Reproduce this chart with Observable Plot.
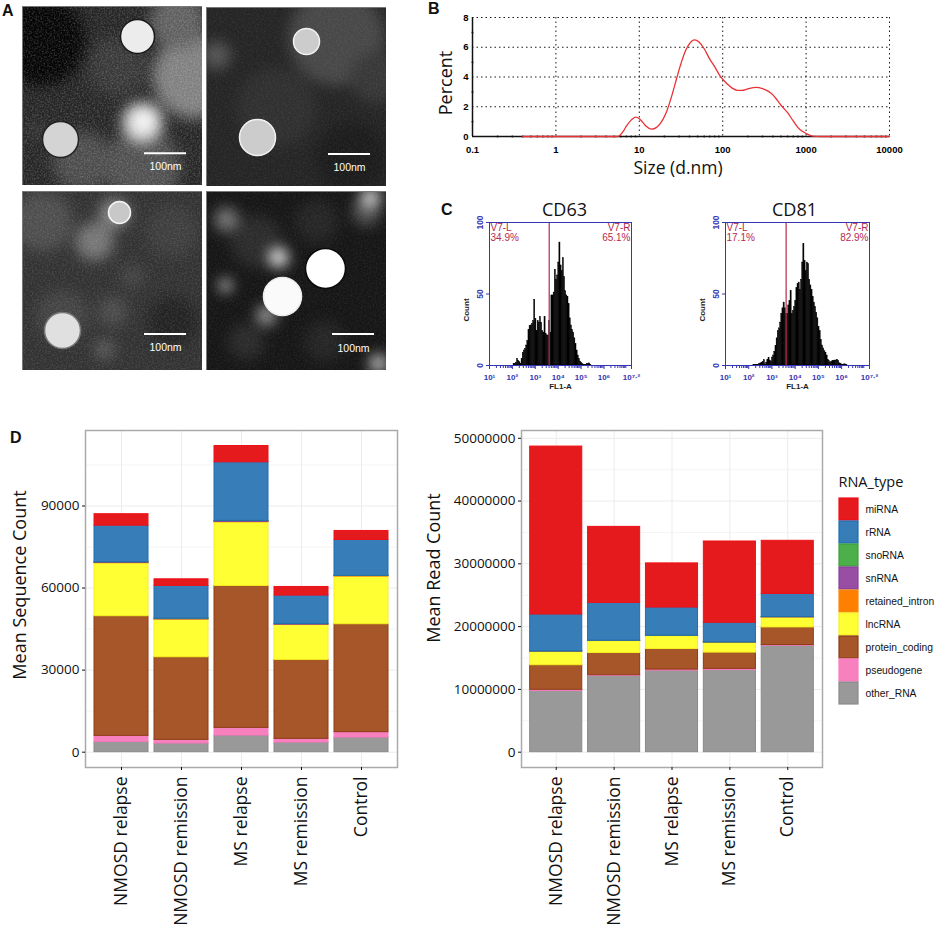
<!DOCTYPE html>
<html>
<head>
<meta charset="utf-8">
<script src="https://cdn.jsdelivr.net/npm/d3@7"></script>
<script src="https://cdn.jsdelivr.net/npm/@observablehq/plot@0.6"></script>
<style>
  html, body { margin: 0; background: white; }
  #page { position: relative; width: 936px; height: 926px; overflow: hidden; }
  #page > svg.plot-box, #page > div.tag { position: absolute; }
  .tag { font: bold 16px "Liberation Sans", sans-serif; color: #111; }
</style>
</head>
<body>
<svg width="0" height="0" style="position:absolute">
  <filter id="grain" x="0" y="0" width="100%" height="100%">
    <feTurbulence type="fractalNoise" baseFrequency="0.6" numOctaves="2" seed="4"/>
    <feColorMatrix type="matrix" values="0 0 0 0 1  0 0 0 0 1  0 0 0 0 1  1.3 0 0 0 -0.52"/>
  </filter>
</svg>
<div id="page"></div>
<script>
// panel D
const groups = ["NMOSD relapse", "NMOSD remission", "MS relapse", "MS remission", "Control"]
const rnaTypes = ["miRNA", "rRNA", "snoRNA", "snRNA", "retained_intron", "lncRNA", "protein_coding", "pseudogene", "other_RNA"]
const rnaFill = ["#e41a1c", "#377eb8", "#4daf4a", "#984ea3", "#ff7f00", "#ffff33", "#a65628", "#f781bf", "#999999"]
const rnaEdge = ["#f01018", "#1f6db4", "#3f9e3c", "#8a3ea0", "#f58a10", "#f5f020", "#8c3c14", "#ff78c0", "#8a8a8a"]

const seqOther = [3780, 3170, 6090, 3530, 5360]
const seqPseudo = [2190, 1340, 2800, 1340, 1950]
const seqProtein = [43730, 30190, 51890, 28870, 39460]
const seqLnc = [19360, 13780, 23260, 12790, 17420]
const seqRetained = [120, 100, 150, 90, 200]
const seqSn = [250, 200, 300, 220, 60]
const seqSno = [60, 50, 80, 50, 40]
const seqR = [13310, 11950, 21400, 10360, 13100]
const seqMi = [4200, 2420, 5960, 3150, 3280]

const readOther = [9780000, 12160000, 13000000, 13110000, 16970000]
const readPseudo = [160000, 100000, 160000, 160000, 100000]
const readProtein = [3910000, 3540000, 3280000, 2590000, 2800000]
const readLnc = [2150000, 1900000, 2060000, 1580000, 1590000]
const readRetained = [30000, 30000, 30000, 30000, 30000]
const readSn = [20000, 20000, 20000, 20000, 20000]
const readSno = [15000, 15000, 15000, 15000, 15000]
const readR = [5865000, 6015000, 4475000, 3105000, 3675000]
const readMi = [26750000, 12110000, 7030000, 12950000, 8470000]

// panel B
const sizeNm = [0.4, 5.5, 6.5, 7, 8, 9, 10, 11, 12, 14, 16, 18, 21, 25, 28, 32, 36, 40, 46, 52, 60, 70, 80, 90, 100, 115, 130, 150, 170, 200, 250, 300, 350, 400, 450, 500, 600, 700, 800, 900, 1000, 1200, 1500, 10000]
const percent = [0, 0, 0.4, 0.7, 1.1, 1.3, 1.2, 0.95, 0.7, 0.5, 0.6, 0.9, 1.6, 2.9, 3.9, 5, 5.8, 6.25, 6.5, 6.35, 5.9, 5.2, 4.7, 4.2, 3.85, 3.5, 3.25, 3.1, 3.1, 3.2, 3.3, 3.22, 3.05, 2.8, 2.45, 2.1, 1.6, 1.05, 0.6, 0.35, 0.2, 0.03, 0, 0]
const sizeTicks = [0.1, 1, 10, 100, 1000, 10000]
const sizeMinor = [0.2, 0.3, 0.4, 0.5, 0.6, 0.7, 0.8, 0.9, 2, 3, 4, 5, 6, 7, 8, 9, 20, 30, 40, 50, 60, 70, 80, 90, 200, 300, 400, 500, 600, 700, 800, 900, 2000, 3000, 4000, 5000, 6000, 7000, 8000, 9000]

// panel C, bin starts are log10 of FL1-A
const cd63Bins = [2.05, 2.1, 2.15, 2.2, 2.25, 2.3, 2.35, 2.4, 2.45, 2.5, 2.55, 2.6, 2.65, 2.7, 2.75, 2.8, 2.85, 2.9, 2.95, 3, 3.05, 3.1, 3.15, 3.2, 3.25, 3.3, 3.35, 3.4, 3.45, 3.5, 3.55, 3.6, 3.65, 3.7, 3.75, 3.8, 3.85, 3.9, 3.95, 4, 4.05, 4.1, 4.15, 4.2, 4.25, 4.3, 4.35, 4.4, 4.45, 4.5, 4.55, 4.6, 4.65, 4.7, 4.75, 4.8, 4.85, 4.9, 4.95, 5, 5.05, 5.1, 5.15, 5.2, 5.25, 5.3, 5.35, 5.4]
const cd63Count = [1, 1, 2, 4.6, 3.3, 2.3, 1, 4.6, 8.8, 10.5, 11.6, 14, 17, 25, 27.5, 28, 29, 31, 46, 32.5, 24, 31, 30, 34, 30, 24, 23, 34, 22, 21, 21, 31, 23, 49, 49, 51, 67, 60, 63, 72, 86, 70, 66, 75, 62, 52, 49, 48, 43, 33, 28, 25, 23, 19, 15, 10.5, 7, 4.6, 2.8, 2, 1, 0.5, 0.5, 0.5, 1, 1, 1.5, 0.5]
const cd81Bins = [2.2, 2.25, 2.3, 2.35, 2.4, 2.45, 2.5, 2.55, 2.6, 2.65, 2.7, 2.75, 2.8, 2.85, 2.9, 2.95, 3, 3.05, 3.1, 3.15, 3.2, 3.25, 3.3, 3.35, 3.4, 3.45, 3.5, 3.55, 3.6, 3.65, 3.7, 3.75, 3.8, 3.85, 3.9, 3.95, 4, 4.05, 4.1, 4.15, 4.2, 4.25, 4.3, 4.35, 4.4, 4.45, 4.5, 4.55, 4.6, 4.65, 4.7, 4.75, 4.8, 4.85, 4.9, 4.95, 5, 5.05, 5.1, 5.15, 5.2, 5.25, 5.3, 5.35, 5.4, 5.45, 5.5, 5.55, 5.6, 5.65, 5.7, 5.75, 5.8, 5.85, 5.9, 5.95, 6, 6.05, 6.1, 6.15, 6.2]
const cd81Count = [0.5, 0.5, 0.5, 0.3, 0.5, 1, 1.5, 2, 2.5, 3.7, 0.8, 2, 4, 5.5, 3.5, 2.8, 5.6, 7, 9.5, 13.5, 19, 24, 26, 30, 36, 40, 44, 40, 36, 36, 42, 45, 52, 36, 38, 41, 45, 54, 57, 58, 53, 60, 72, 85, 73, 66, 72, 71, 60, 56, 53, 48, 44, 41, 37, 33, 27, 24, 18, 14, 12, 10, 9, 7, 4, 3, 2, 2.5, 3, 3, 3.5, 3.5, 4, 3, 1.5, 1, 0.5, 0.3, 0.8, 0.8, 0.5]

// panel A, plates are 180 px across: x, y, r, grey
const plate1Glow = [[18, 35, 45, "#040404"], [172, 70, 42, "#808080"], [120, 160, 38, "#505050"], [155, 15, 28, "#606060"], [60, 155, 30, "#4c4c4c"], [120, 116, 20, "#dcdcdc"], [122, 114, 8, "#ffffff"], [14, 124, 4, "#666666"], [95, 60, 30, "#383838"]]
const plate1Spot = [[115, 30, 17, "#ececec", "#1a1a1a"], [38, 133, 18, "#d4d4d4", "#222222"]]
const plate2Glow = [[130, 30, 48, "#484848"], [170, 70, 26, "#383838"], [10, 48, 14, "#555555"], [70, 100, 40, "#303030"], [145, 150, 35, "#1c1c1c"]]
const plate2Spot = [[100, 34, 13, "#cccccc", "#f2f2f2"], [51, 130, 18, "#cccccc", "#f2f2f2"]]
const plate3Glow = [[72, 50, 19, "#777777"], [92, 22, 15, "#858585"], [20, 30, 30, "#4e4e4e"], [110, 85, 12, "#454545"], [90, 120, 15, "#4c4c4c"], [82, 158, 10, "#5c5c5c"], [150, 40, 26, "#3e3e3e"], [40, 125, 26, "#444444"], [150, 130, 25, "#222222"]]
const plate3Spot = [[97, 21, 11, "#c8c8c8", "#f4f4f4"], [40, 139, 18, "#e0e0e0", "#777777"]]
const plate4Glow = [[72, 66, 10, "#e4e4e4"], [20, 28, 12, "#777777"], [19, 94, 6, "#e0e0e0"], [60, 124, 10, "#9a9a9a"], [164, 6, 10, "#d0d0d0"], [172, 172, 9, "#cccccc"], [160, 20, 14, "#555555"], [50, 50, 26, "#2c2c2c"], [110, 30, 22, "#262626"], [118, 150, 20, "#262626"], [40, 150, 18, "#2c2c2c"]]
const plate4Spot = [[119, 77, 20, "#ffffff", "#0a0a0a"], [76, 105, 19, "#fafafa", "#eeeeee"]]

const mono = "Liberation Sans, sans-serif"
const humanist = "Open Sans, sans-serif"
const page = document.getElementById("page")

function mount(svg, left, top) {
  svg.classList.add("plot-box")
  svg.style.left = left + "px"
  svg.style.top = top + "px"
  svg.style.background = "transparent"
  page.append(svg)
}

function tag(text, left, top) {
  const el = document.createElement("div")
  el.className = "tag"
  el.textContent = text
  el.style.left = left + "px"
  el.style.top = top + "px"
  page.append(el)
}

function plate(base, glow, spots, barY, labelY, barX, grain, left, top) {
  const spot = spots.map(s => ({x: s[0], y: s[1], r: s[2], fill: s[3], edge: s[4]}))
  const soft = glow.map(s => ({x: s[0], y: s[1], r: s[2], fill: s[3]}))
  mount(Plot.plot({
    width: 180, height: 179,
    margin: 0,
    x: {domain: [0, 180], axis: null},
    y: {domain: [0, 179], axis: null, reverse: true},
    r: {type: "identity"},
    marks: [
      Plot.frame({fill: base}),
      Plot.dot(soft, {x: "x", y: "y", r: "r", fill: "fill", imageFilter: "blur(7px)"}),
      Plot.frame({fill: "white", opacity: grain, imageFilter: "url(#grain)"}),
      Plot.dot(spot, {x: "x", y: "y", r: "r", fill: "fill", stroke: "edge", strokeWidth: 1.5}),
      Plot.ruleY([barY], {x1: barX, x2: barX + 42, stroke: "white", strokeWidth: 2}),
      Plot.text(["100nm"], {x: barX + 21, y: labelY, fill: "white", fontSize: 10.5, fontFamily: mono}),
      Plot.frame({stroke: "#777", strokeWidth: 1})
    ]
  }), left, top)
}

plate("#262626", plate1Glow, plate1Spot, 146.7, 159.7, 122, 0.35, 22, 6)
plate("#252525", plate2Glow, plate2Spot, 146.5, 160, 122, 0.12, 206, 7)
plate("#323232", plate3Glow, plate3Spot, 142.5, 156, 122, 0.22, 22, 191)
plate("#161616", plate4Glow, plate4Spot, 142.5, 157, 126, 0.12, 206, 191)

// size distribution
const sizeRows = sizeNm.map((s, i) => ({s, p: percent[i]}))
mount(Plot.plot({
  width: 474, height: 190,
  marginLeft: 42, marginRight: 15, marginTop: 17, marginBottom: 54,
  style: {background: "transparent", fontFamily: mono},
  x: {type: "log", domain: [0.1, 10000], label: null},
  y: {domain: [0, 8], label: null},
  marks: [
    Plot.gridX(sizeTicks, {stroke: "black", strokeOpacity: 0.9, strokeDasharray: "1.5,3"}),
    Plot.gridY([2, 4, 6, 8], {stroke: "black", strokeOpacity: 0.9, strokeDasharray: "1.5,3"}),
    Plot.ruleX([0.1], {stroke: "#111", strokeWidth: 1.5}),
    Plot.ruleY([0], {stroke: "#111", strokeWidth: 1.5}),
    Plot.dot(sizeMinor, {x: d => d, y: 0, r: 1, fill: "#111"}),
    Plot.dot([1, 3, 5, 7], {x: 0.1, y: d => d, r: 1, fill: "#111"}),
    Plot.axisX({ticks: sizeTicks, tickSize: 0, tickPadding: 10, fontSize: 9.5, fontWeight: "bold", tickFormat: d => String(d), label: null}),
    Plot.axisY({ticks: [0, 2, 4, 6, 8], tickSize: 0, tickPadding: 4, fontSize: 9.5, fontWeight: "bold", label: null}),
    Plot.line(sizeRows, {x: "s", y: "p", stroke: "#ea3136", strokeWidth: 1.3, curve: "monotone-x"}),
    Plot.text(["Size (d.nm)"], {frameAnchor: "bottom", dx: -3, dy: 37, fontSize: 17.5, fontFamily: humanist, fill: "#111"}),
    Plot.text(["Percent"], {frameAnchor: "left", dx: -26, dy: 6, rotate: -90, fontSize: 18, textAnchor: "middle", fontFamily: humanist, fill: "#111"})
  ]
}), 430, 0)

// flow histograms
const flowBlue = "#3636b4"
const gateRed = "#b5294e"
const flowTicks = [1, 2, 3, 4, 5, 6]
const flowMinor = [1, 2, 3, 4, 5, 6, 7].flatMap(e => d3.range(2, 10).map(k => e + Math.log10(k))).filter(e => e < 7.2)

function histogram(bins, counts, gate, leftText, rightText, title, titleShift, left, w) {
  const rows = bins.map((b, i) => ({lo: b, hi: b + 0.05, n: counts[i]}))
  mount(Plot.plot({
    width: w + 50, height: 206,
    marginLeft: 30, marginRight: 20, marginTop: 32, marginBottom: 31,
    style: {background: "transparent", fontFamily: mono},
    x: {domain: [1, 7.2], label: null},
    y: {domain: [0, 100], label: null},
    marks: [
      Plot.rectY(rows, {x1: "lo", x2: "hi", y: "n", fill: "black", stroke: "black", strokeWidth: 0.4}),
      Plot.ruleX([gate], {stroke: gateRed, strokeWidth: 1.2}),
      Plot.frame({stroke: flowBlue, strokeWidth: 1}),
      Plot.axisX({ticks: flowMinor, tickSize: 3, color: flowBlue, tickFormat: () => "", label: null}),
      Plot.axisX({ticks: [...flowTicks, 7.2], tickSize: 4, tickPadding: 5, fontSize: 8, fontWeight: "bold", color: flowBlue, label: null,
        tickFormat: d => d == 7.2 ? "10⁷·²" : "10" + "⁰¹²³⁴⁵⁶"[d]}),
      Plot.axisY({ticks: [0, 50, 100], tickSize: 3, tickPadding: 4, fontSize: 8.5, fontWeight: "bold", color: flowBlue, tickRotate: -90, label: null}),
      Plot.text(["V7-L\n" + leftText], {frameAnchor: "top-left", dx: 1, dy: 2, fontSize: 10, fill: gateRed, lineHeight: 0.95}),
      Plot.text(["V7-R\n" + rightText], {frameAnchor: "top-right", dx: -1, dy: 2, fontSize: 10, fill: gateRed, lineHeight: 0.95}),
      Plot.text(["FL1-A"], {frameAnchor: "bottom", dy: 23.5, fontSize: 8, fontWeight: "bold", fill: "#222"}),
      Plot.text(["Count"], {frameAnchor: "left", dx: -23, dy: 16, rotate: -90, textAnchor: "middle", fontSize: 8, fontWeight: "bold", fill: "#222"}),
      Plot.text([title], {frameAnchor: "top", dx: titleShift, dy: -19, fontSize: 18, fontFamily: humanist, fill: "#111"})
    ]
  }), left - 30, 190)
}

histogram(cd63Bins, cd63Count, 3.607, "34.9%", "65.1%", "CD63", 4, 489, 142)
histogram(cd81Bins, cd81Count, 3.61, "17.1%", "82.9%", "CD81", -3, 725, 144)

// stacked bars
function stacked(series, yDomain, major, minor, title, titleDx, titleDy, panelLeft, panelWidth) {
  const rows = series.flatMap(([type, values]) => values.map((v, i) => ({
    group: groups[i], type, v,
    fill: rnaFill[rnaTypes.indexOf(type)],
    edge: rnaEdge[rnaTypes.indexOf(type)]
  })))
  const left = panelLeft <= 85 ? 0 : 420
  mount(Plot.plot({
    width: panelLeft - left + panelWidth + 5, height: 506,
    marginLeft: panelLeft - left, marginRight: 5, marginTop: 10, marginBottom: 159,
    style: {background: "transparent", fontFamily: humanist, color: "#111"},
    x: {domain: groups, paddingInner: 0.1, paddingOuter: 0.15, round: false, label: null},
    y: {domain: yDomain, label: null},
    marks: [
      Plot.gridY(minor, {stroke: "#f4f4f4", strokeOpacity: 1}),
      Plot.gridY(major, {stroke: "#ececec", strokeOpacity: 1}),
      Plot.gridX(groups, {stroke: "#ececec", strokeOpacity: 1}),
      Plot.barY(rows, {x: "group", y: "v", fill: "fill", stroke: "edge", strokeWidth: 1, order: null}),
      Plot.frame({stroke: "#aaaaaa", strokeWidth: 1.5}),
      Plot.axisY({ticks: major, tickSize: 3, tickPadding: 3, fontSize: 13.5, tickFormat: d => String(d), label: null}),
      Plot.axisX({tickSize: 3, tickPadding: 6, fontSize: 17.5, tickRotate: -90, label: null}),
      Plot.text([title], {frameAnchor: "left", dx: titleDx, dy: titleDy, rotate: -90, textAnchor: "middle", fontSize: 18, fill: "#111"})
    ]
  }), left, 420)
}

stacked([
  ["other_RNA", seqOther], ["pseudogene", seqPseudo], ["protein_coding", seqProtein], ["lncRNA", seqLnc],
  ["retained_intron", seqRetained], ["snRNA", seqSn], ["snoRNA", seqSno], ["rRNA", seqR], ["miRNA", seqMi]
], [-5600, 117600], [0, 30000, 60000, 90000], [15000, 45000, 75000, 105000], "Mean Sequence Count", -65, -14, 85, 312)

stacked([
  ["other_RNA", readOther], ["pseudogene", readPseudo], ["protein_coding", readProtein], ["lncRNA", readLnc],
  ["retained_intron", readRetained], ["snRNA", readSn], ["snoRNA", readSno], ["rRNA", readR], ["miRNA", readMi]
], [-2440000, 51240000], [0, 10000000, 20000000, 30000000, 40000000, 50000000], [5000000, 15000000, 25000000, 35000000, 45000000], "Mean Read Count", -87, -31, 521, 301)

// legend
const fillOf = t => rnaFill[rnaTypes.indexOf(t)]
const edgeOf = t => rnaEdge[rnaTypes.indexOf(t)]
mount(Plot.plot({
  width: 106, height: 241,
  marginLeft: 9, marginRight: 78, marginTop: 27, marginBottom: 3,
  style: {background: "transparent", fontFamily: mono, color: "#111"},
  x: {domain: ["k"], axis: null, padding: 0},
  y: {domain: rnaTypes, axis: null, padding: 0.06},
  marks: [
    Plot.cell(rnaTypes, {x: () => "k", y: d => d, fill: fillOf, stroke: edgeOf, strokeWidth: 1.2}),
    Plot.text(rnaTypes, {y: d => d, text: d => d, frameAnchor: "left", dx: 26, fontSize: 10.3}),
    Plot.text(["RNA_type"], {frameAnchor: "top-left", dx: -1, dy: -19, fontSize: 14.5, fontFamily: humanist})
  ]
}), 830, 468)

tag("A", 2, 2)
tag("B", 428, 0)
tag("C", 441, 201)
tag("D", 10, 429)
</script>
</body>
</html>
